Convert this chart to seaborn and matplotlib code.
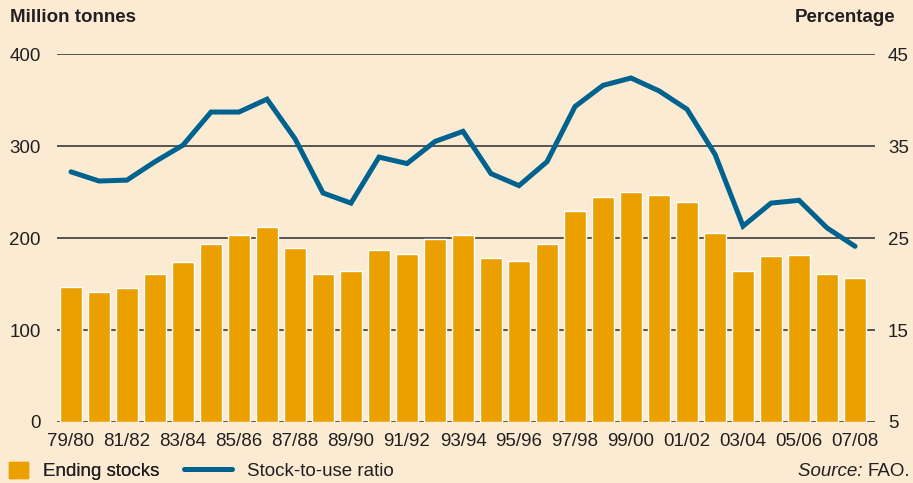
import numpy as np
import pandas as pd
import matplotlib
matplotlib.use("Agg")
import matplotlib.pyplot as plt
import seaborn as sns
from matplotlib.patches import Patch
from matplotlib.lines import Line2D

# Data
seasons = ["79/80", "80/81", "81/82", "82/83", "83/84", "84/85", "85/86", "86/87",
           "87/88", "88/89", "89/90", "90/91", "91/92", "92/93", "93/94", "94/95",
           "95/96", "96/97", "97/98", "98/99", "99/00", "00/01", "01/02", "02/03",
           "03/04", "04/05", "05/06", "06/07", "07/08"]
ending_stocks = [147, 141, 146, 161, 174, 194, 203, 212, 189, 161, 164, 187, 183, 199, 203,
                 178, 175, 194, 229, 245, 250, 247, 239, 205, 164, 180, 182, 161, 157]
stock_to_use = [32.2, 31.2, 31.3, 33.3, 35.1, 38.7, 38.7, 40.1, 35.8, 29.9, 28.8, 33.8, 33.1,
                35.5, 36.6, 32.0, 30.7, 33.3, 39.3, 41.6, 42.4, 41.0, 39.0, 34.1, 26.3, 28.8,
                29.1, 26.1, 24.1]
left_ticks = [0, 100, 200, 300, 400]
right_ticks = [5, 15, 25, 35, 45]

bg = "#FCEBD3"
bar_color = "#EBA000"
line_color = "#00628F"
text_color = "#231F20"
fs = 13.5

sns.set_style("white")
plt.rcParams["font.family"] = ["Liberation Sans", "DejaVu Sans"]

df = pd.DataFrame({"season": seasons, "stocks": ending_stocks, "ratio": stock_to_use})

fig = plt.figure(figsize=(9.13, 4.83), dpi=100, facecolor=bg)
ax = fig.add_axes([0.0624, 0.1263, 0.8956, 0.7617])
ax.set_facecolor(bg)

# Bars: ending stocks (left axis)
sns.barplot(data=df, x="season", y="stocks", color=bar_color, saturation=1,
            width=0.78, ax=ax, zorder=3)
ax.set_ylim(0, 400)
ax.set_xlim(-0.5, 28.7)
ax.set_yticks(left_ticks)
ax.set_xticks(range(0, len(seasons), 2))
ax.set_xticklabels(seasons[::2])
ax.set_xlabel("")
ax.set_ylabel("")
ax.grid(axis="y", color="#2a2a2a", linewidth=1.1, zorder=0)
ax.set_axisbelow(True)
for s in ax.spines.values():
    s.set_visible(False)
ax.tick_params(axis="both", length=0, labelsize=fs, colors=text_color)
ax.tick_params(axis="y", pad=11.5)
ax.tick_params(axis="x", pad=8)

# Line: stock-to-use ratio (right axis)
ax2 = ax.twinx()
sns.lineplot(x=np.arange(len(seasons)), y=df["ratio"], ax=ax2, color=line_color,
             linewidth=3.6, solid_joinstyle="miter", solid_capstyle="round")
ax2.set_ylim(5, 45)
ax2.set_yticks(right_ticks)
ax2.set_ylabel("")
ax2.grid(False)
for s in ax2.spines.values():
    s.set_visible(False)
ax2.tick_params(axis="y", length=0, labelsize=fs, colors=text_color, pad=9.5)

# Axis titles
fig.text(0.011, 1 - 18 / 483, "Million tonnes", fontsize=fs, fontweight="bold",
         color=text_color, ha="left", va="center")
fig.text(0.981, 1 - 18 / 483, "Percentage", fontsize=fs, fontweight="bold",
         color=text_color, ha="right", va="center")

# Legend
leg1 = fig.legend(handles=[Patch(color=bar_color, label="Ending stocks")],
                  loc="center left", bbox_to_anchor=(0.004, 1 - 471 / 483), frameon=False,
                  fontsize=fs, handlelength=1.0, handleheight=1.0, handletextpad=0.8,
                  borderaxespad=0, borderpad=0.3, labelcolor=text_color)
leg2 = fig.legend(handles=[Line2D([], [], color=line_color, linewidth=3.6, label="Stock-to-use ratio")],
                  loc="center left", bbox_to_anchor=(0.195, 1 - 471 / 483), frameon=False,
                  fontsize=fs, handlelength=2.6, handletextpad=0.8,
                  borderaxespad=0, borderpad=0.3, labelcolor=text_color)
fig.add_artist(leg1)

# Source note
fao = fig.text(0.997, 1 - 472 / 483, "FAO.", fontsize=fs, color=text_color,
               ha="right", va="center")
fig.add_artist(matplotlib.text.Annotation("Source: ", xy=(0, 0.5), xycoords=fao,
                                          fontsize=fs, color=text_color, fontstyle="italic",
                                          ha="right", va="center"))

fig.savefig("out.png", dpi=100, facecolor=bg)
